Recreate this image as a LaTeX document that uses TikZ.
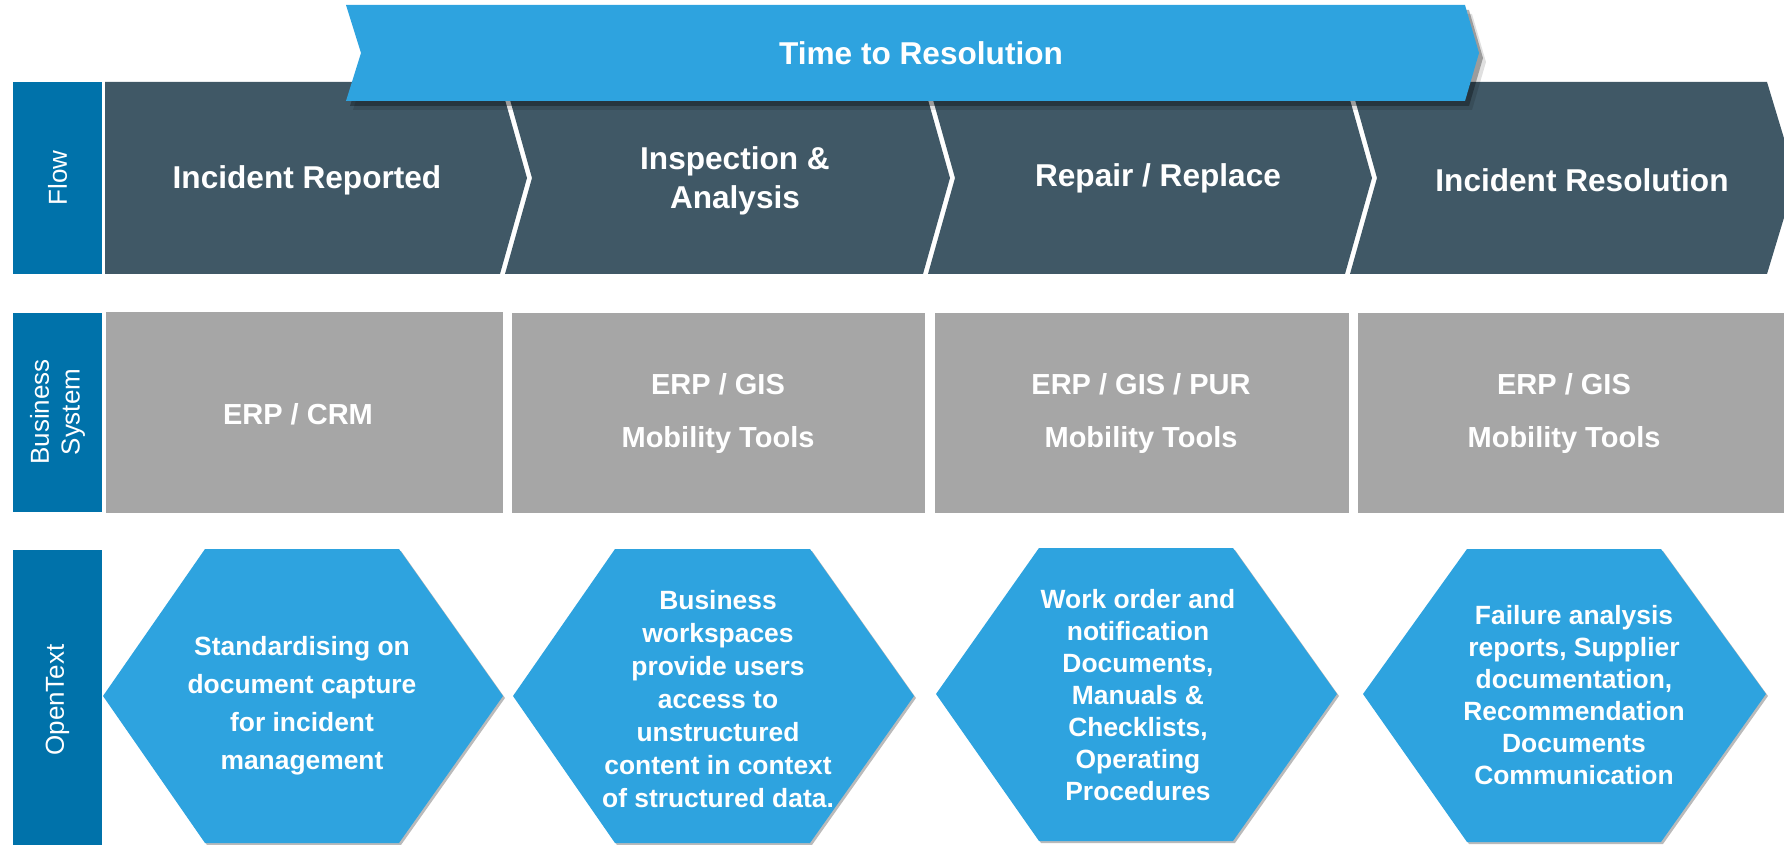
\documentclass[tikz,border=0pt]{standalone}
\usepackage{fontspec}
\setmainfont{Liberation Sans}
\usepackage{tikz}
\usetikzlibrary{shadows}

\definecolor{rowblue}{RGB}{0,114,170}
\definecolor{flowslate}{RGB}{64,88,102}
\definecolor{otblue}{RGB}{46,163,223}
\definecolor{sysgray}{RGB}{166,166,166}

\begin{document}
\begin{tikzpicture}[x=0.5pt, y=-0.5pt,
  rowlbl/.style={text=white, rotate=90, align=center, inner sep=0pt,
    font=\fontsize{13pt}{15.3pt}\selectfont},
  chev/.style={fill=flowslate},
  chevtxt/.style={text=white, align=center, inner sep=0pt,
    font=\fontsize{15.8pt}{19.3pt}\selectfont\bfseries},
  systxt/.style={text=white, align=center, inner sep=0pt,
    font=\fontsize{14.5pt}{17pt}\selectfont\bfseries},
  hexa/.style={fill=otblue, drop shadow={shadow xshift=1pt, shadow yshift=-1pt,
    fill=black!45, opacity=.6}},
  hextxt/.style={text=white, align=center, inner sep=0pt,
    font=\fontsize{13.2pt}{16pt}\selectfont\bfseries}]
  \useasboundingbox (0,0) rectangle (1784,845);
  \clip (0,0) rectangle (1784,845);

  % row labels %
  \fill[rowblue] (13,82) rectangle (102,274);
  \fill[rowblue] (13,313) rectangle (102,512);
  \fill[rowblue] (13,550) rectangle (102,845);
  \node[rowlbl] (flow) at (57.5,178) {Flow};
  \node[rowlbl] (bsys) at (57.5,412) {Business\\System};
  \node[rowlbl] (otx) at (57.5,700) {OpenText};

  % flow chevrons %
  \fill[chev] (105,82) -- (500,82) -- (527,178) -- (500,274) -- (105,274) -- cycle;
  \fill[chev] (505,82) -- (923,82) -- (950,178) -- (923,274) -- (505,274) -- (532,178) -- cycle;
  \fill[chev] (928,82) -- (1345,82) -- (1372,178) -- (1345,274) -- (928,274) -- (955,178) -- cycle;
  \fill[chev] (1350,82) -- (1767,82) -- (1796,178) -- (1767,274) -- (1350,274) -- (1377,178) -- cycle;
  \node[chevtxt] (rep) at (307,180) {Incident Reported};
  \node[chevtxt] (insp) at (735,181) {Inspection \&\\Analysis};
  \node[chevtxt] (fix) at (1158,178) {Repair / Replace};
  \node[chevtxt] (res) at (1582,180) {Incident Resolution};

  % time banner %
  \fill[otblue,
    drop shadow={shadow xshift=2pt, shadow yshift=-2.5pt, fill=black, opacity=.3},
    drop shadow={shadow xshift=3.5pt, shadow yshift=-4.5pt, fill=black, opacity=.12}]
    (346,5) -- (1465,5) -- (1479,53) -- (1465,101) -- (346,101) -- (361,53) -- cycle;
  \node[chevtxt] (ttr) at (921,53) {Time to Resolution};

  % business systems %
  \fill[sysgray] (106,312) rectangle (503,513);
  \fill[sysgray] (512,313) rectangle (925,513);
  \fill[sysgray] (935,313) rectangle (1349,513);
  \fill[sysgray] (1358,313) rectangle (1784,513);
  \node[systxt] (erp1) at (298,414) {ERP / CRM};
  \node[systxt] (erp2) at (718,414) {ERP / GIS\\[9.5pt]Mobility Tools};
  \node[systxt] (erp3) at (1141,414) {ERP / GIS / PUR\\[9.5pt]Mobility Tools};
  \node[systxt] (erp4) at (1564,414) {ERP / GIS\\[9.5pt]Mobility Tools};

  % opentext hexagons %
  \fill[hexa] (103,696) -- (205,549) -- (399,549) -- (503,696) -- (399,843) -- (205,843) -- cycle;
  \fill[hexa] (513,696) -- (615,549) -- (810,549) -- (914,696) -- (810,843) -- (615,843) -- cycle;
  \fill[hexa] (936,694) -- (1039,548) -- (1233,548) -- (1337,694) -- (1233,841) -- (1039,841) -- cycle;
  \fill[hexa] (1363,694) -- (1467,549) -- (1661,549) -- (1766,694) -- (1661,842) -- (1467,842) -- cycle;
  \node[hextxt, font=\fontsize{13.2pt}{19pt}\selectfont\bfseries] (cap) at (302,706)
    {Standardising on\\document capture\\for incident\\management};
  \node[hextxt, font=\fontsize{13.2pt}{16.5pt}\selectfont\bfseries] (wsp) at (718,699)
    {Business\\workspaces\\provide users\\access to\\unstructured\\content in context\\of structured data.};
  \node[hextxt] (wo) at (1138,695)
    {Work order and\\notification\\Documents,\\Manuals \&\\Checklists,\\Operating\\Procedures};
  \node[hextxt] (fail) at (1574,695)
    {Failure analysis\\reports, Supplier\\documentation,\\Recommendation\\Documents\\Communication};
\end{tikzpicture}
\end{document}
